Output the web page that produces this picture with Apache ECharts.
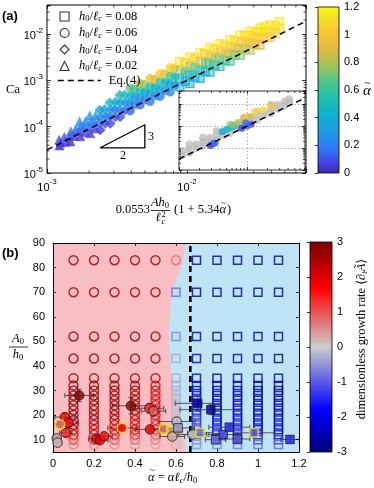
<!DOCTYPE html>
<html>
<head>
<meta charset="utf-8">
<script src="https://cdn.jsdelivr.net/npm/echarts@6/dist/echarts.min.js"></script>
<style>
  html, body { margin: 0; padding: 0; background: #fff; }
  #chart { width: 374px; height: 488px; }
</style>
</head>
<body>
<div id="chart"></div>
<script>
const SANS = "'Liberation Sans', Arial, sans-serif"
const SERIF = "'Liberation Serif', 'DejaVu Serif', serif"

// ---- panel (a): simulations [X, Ca, alpha~], one list per h0/lc ----
const aTriangles = [
  [1.23e-3,3.9e-5,.02],[1.25e-3,4.5e-5,.05],[1.22e-3,5.2e-5,.1],
  [1.36e-3,4.7e-5,.05],[1.33e-3,6.0e-5,.1],
  [1.47e-3,4.8e-5,.03],[1.45e-3,6.2e-5,.08],[1.48e-3,7.9e-5,.15],
  [1.57e-3,6.3e-5,.06],[1.6e-3,8.7e-5,.15],
  [1.73e-3,6.2e-5,.04],[1.7e-3,8.0e-5,.1],[1.74e-3,1.02e-4,.18],[1.71e-3,1.29e-4,.25],
  [1.88e-3,7.6e-5,.07],[1.85e-3,1.0e-4,.15],[1.89e-3,1.32e-4,.22],
  [2.04e-3,7.2e-5,.05],[2.01e-3,9.7e-5,.12],[2.05e-3,1.29e-4,.2],[2.02e-3,1.74e-4,.3],
  [2.21e-3,9.1e-5,.08],[2.18e-3,1.26e-4,.18],[2.22e-3,1.74e-4,.28]
]
const aDiamonds = [
  [2.4e-3,8.5e-5,.05],[2.37e-3,1.18e-4,.15],[2.42e-3,1.62e-4,.25],[2.38e-3,2.29e-4,.38],
  [2.6e-3,1.17e-4,.1],[2.63e-3,1.66e-4,.22],[2.58e-3,2.34e-4,.35],
  [2.83e-3,1.17e-4,.08],[2.8e-3,1.65e-4,.18],[2.85e-3,2.33e-4,.3],[2.81e-3,3.3e-4,.45],
  [3.07e-3,1.62e-4,.12],[3.04e-3,2.34e-4,.25],[3.09e-3,3.4e-4,.4],
  [3.33e-3,1.62e-4,.1],[3.3e-3,2.3e-4,.2],[3.35e-3,3.3e-4,.35],[3.31e-3,4.8e-4,.55],
  [3.6e-3,2.24e-4,.15],[3.63e-3,3.3e-4,.3],[3.58e-3,4.8e-4,.5]
]
const aCircles = [
  [3.93e-3,2.2e-4,.12],[3.9e-3,3.2e-4,.25],[3.95e-3,4.6e-4,.42],[3.91e-3,6.8e-4,.7],
  [4.25e-3,3.0e-4,.2],[4.28e-3,4.4e-4,.35],[4.22e-3,6.4e-4,.6],
  [4.62e-3,2.95e-4,.15],[4.58e-3,4.2e-4,.3],[4.65e-3,5.9e-4,.5],[4.6e-3,8.5e-4,.85],
  [5.0e-3,3.8e-4,.2],[5.04e-3,5.6e-4,.4],[4.97e-3,8.1e-4,.75],
  [5.45e-3,3.5e-4,.18],[5.41e-3,5.1e-4,.35],[5.48e-3,7.4e-4,.55],[5.43e-3,1.1e-3,1.0],
  [5.9e-3,4.7e-4,.25],[5.94e-3,7.0e-4,.45],[5.87e-3,1.05e-3,.9],
  [6.42e-3,4.5e-4,.2],[6.38e-3,6.5e-4,.38],[6.46e-3,9.5e-4,.6],[6.4e-3,1.4e-3,1.05],
  [6.98e-3,6.0e-4,.28],[7.02e-3,9.1e-4,.5],[6.94e-3,1.38e-3,.95],
  [7.58e-3,5.6e-4,.25],[7.53e-3,8.4e-4,.4],[7.62e-3,1.26e-3,.65],[7.56e-3,1.9e-3,1.1],
  [8.2e-3,7.7e-4,.3],[8.25e-3,1.19e-3,.55],[8.16e-3,1.84e-3,1.0]
]
const aSquares = [
  [8.9e-3,7.2e-4,.3],[8.85e-3,1.1e-3,.45],[8.95e-3,1.66e-3,.75],[8.88e-3,2.57e-3,1.15],
  [9.7e-3,9.5e-4,.35],[9.75e-3,1.5e-3,.6],[9.65e-3,2.37e-3,1.05],
  [1.05e-2,8.5e-4,.35],[1.045e-2,1.32e-3,.5],[1.055e-2,2.04e-3,.8],[1.05e-2,3.2e-3,1.15],
  [1.14e-2,1.17e-3,.4],[1.145e-2,1.86e-3,.65],[1.135e-2,2.95e-3,1.05],
  [1.24e-2,1.1e-3,.4],[1.235e-2,1.68e-3,.55],[1.25e-2,2.57e-3,.85],[1.24e-2,4.0e-3,1.15],
  [1.35e-2,1.55e-3,.45],[1.36e-2,2.43e-3,.7],[1.34e-2,3.8e-3,1.05],
  [1.46e-2,1.5e-3,.45],[1.45e-2,2.29e-3,.6],[1.47e-2,3.5e-3,.9],[1.46e-2,5.2e-3,1.15],
  [1.58e-2,2.09e-3,.5],[1.59e-2,3.15e-3,.75],[1.57e-2,4.8e-3,1.1],
  [1.72e-2,2.0e-3,.55],[1.71e-2,2.9e-3,.7],[1.73e-2,4.2e-3,.95],[1.72e-2,6.2e-3,1.15],
  [1.87e-2,2.7e-3,.6],[1.88e-2,3.9e-3,.85],[1.86e-2,5.75e-3,1.1],
  [2.03e-2,2.6e-3,.6],[2.02e-2,3.7e-3,.8],[2.04e-2,5.25e-3,1.0],[2.03e-2,7.6e-3,1.15],
  [2.2e-2,3.5e-3,.7],[2.21e-2,5.0e-3,.9],[2.19e-2,7.2e-3,1.1],
  [2.39e-2,3.5e-3,.7],[2.38e-2,4.8e-3,.85],[2.4e-2,6.8e-3,1.0],[2.39e-2,9.5e-3,1.15],
  [2.6e-2,4.8e-3,.8],[2.61e-2,7.1e-3,1.0],[2.59e-2,9.5e-3,1.12],
  [2.82e-2,4.5e-3,.8],[2.81e-2,6.5e-3,.95],[2.83e-2,9.5e-3,1.1],[2.82e-2,1.15e-2,1.15],
  [3.06e-2,6.0e-3,.9],[3.07e-2,8.7e-3,1.05],[3.05e-2,1.12e-2,1.12],
  [3.32e-2,5.8e-3,.9],[3.31e-2,8.1e-3,1.0],[3.33e-2,1.14e-2,1.1],[3.32e-2,1.35e-2,1.15],
  [3.6e-2,8.3e-3,1.0],[3.61e-2,1.15e-2,1.1],[3.59e-2,1.46e-2,1.15],
  [3.92e-2,8.6e-3,1.0],[3.9e-2,1.17e-2,1.08],[3.93e-2,1.58e-2,1.15],
  [4.25e-2,1.05e-2,1.05],[4.26e-2,1.48e-2,1.12],
  [4.6e-2,1.33e-2,1.1],[4.58e-2,1.86e-2,1.15]
]
// inset: other data (gray) and the same runs (colored)
const insetGray = [
  [1.12e-3,4.7e-5],[1.12e-3,7.5e-5],
  [1.41e-3,6.0e-5],[1.41e-3,9.4e-5],[1.41e-3,1.5e-4],
  [1.78e-3,9.4e-5],[1.78e-3,1.5e-4],
  [2.24e-3,1.19e-4],[2.24e-3,1.88e-4],[2.24e-3,3.0e-4],
  [2.82e-3,1.88e-4],[2.82e-3,3.0e-4],
  [3.55e-3,2.37e-4],[3.55e-3,3.76e-4],[3.55e-3,5.96e-4],
  [4.47e-3,3.76e-4],[4.47e-3,5.96e-4],
  [5.62e-3,4.7e-4],[5.62e-3,7.5e-4],[5.62e-3,1.19e-3],
  [7.08e-3,7.5e-4],[7.08e-3,1.19e-3],
  [8.91e-3,9.4e-4],[8.91e-3,1.5e-3],[8.91e-3,2.37e-3],
  [1.12e-2,1.5e-3],[1.12e-2,2.37e-3],
  [1.41e-2,1.88e-3],[1.41e-2,3.0e-3],[1.41e-2,4.7e-3],
  [1.78e-2,3.0e-3],[1.78e-2,4.7e-3],
  [2.24e-2,3.76e-3],[2.24e-2,5.96e-3],[2.24e-2,9.4e-3],
  [2.82e-2,5.96e-3],[2.82e-2,9.4e-3],
  [3.55e-2,8.4e-3],[3.55e-2,1.33e-2],
  [4.17e-2,1.2e-2],[4.17e-2,1.7e-2]
]
const insetColored = [
  [2.9e-3,1.3e-4,.05],[3.16e-3,1.55e-4,.1],[3.4e-3,1.7e-4,.15],
  [4.3e-3,5.5e-4,.35],[5.0e-3,7.0e-4,.45],[5.8e-3,8.5e-4,.5],[6.5e-3,1.0e-3,.55],
  [6.0e-3,1.1e-3,.75],[7.5e-3,1.5e-3,.8],[9.0e-3,1.9e-3,.9],[1.1e-2,2.6e-3,.85],
  [1.3e-2,4.5e-3,1.1],[1.7e-2,5.5e-3,1.15],[2.3e-2,8.5e-3,1.0],[9.3e-3,2.6e-3,1.0],
  [8.3e-3,8.0e-4,.05],[1.0e-2,1.0e-3,.1],[1.15e-2,1.2e-3,.08],[9.5e-3,1.4e-3,.15]
]
const eqX = [1e-3, 0.0708]            // Eq.(4)
const eqCa = [3.16e-5, 0.01884]
const slopeX = [2.4e-3, 5.0e-3, 5.0e-3, 2.4e-3]
const slopeCa = [3.5e-5, 3.5e-5, 1.1e-4, 3.5e-5]
const aMinorX = [2e-3,3e-3,4e-3,5e-3,6e-3,7e-3,8e-3,9e-3,2e-2,3e-2,4e-2,5e-2,6e-2,7e-2]
const aMinorY = [2e-5,3e-5,4e-5,5e-5,6e-5,7e-5,8e-5,9e-5,2e-4,3e-4,4e-4,5e-4,6e-4,7e-4,8e-4,9e-4,
  2e-3,3e-3,4e-3,5e-3,6e-3,7e-3,8e-3,9e-3,2e-2,3e-2,4e-2]

// ---- panel (b) ----
const simAlpha = [0.1,0.2,0.3,0.4,0.5,0.6,0.7,0.8,0.9,1.0,1.1]
const simRows = [83,70,52,43,35,32,30,28,26,24,22,20,18,16,14,12,10,8]
const simRate = [
  [2.7,2.7,2.7,2.7,2.7,2.7,2.7,2.7,2.7,2.7,2.6,2.6,2.5,2.4,2.2,1.8,1.2,0.6],
  [2.7,2.7,2.7,2.7,2.7,2.7,2.7,2.7,2.7,2.7,2.6,2.6,2.5,2.4,2.2,1.9,1.4,0.6],
  [2.7,2.7,2.7,2.7,2.7,2.7,2.6,2.6,2.6,2.5,2.5,2.4,2.2,1.9,1.8,1.6,1.0,0.5],
  [2.7,2.7,2.7,2.6,2.6,2.5,2.5,2.4,2.4,2.4,2.3,2.1,1.9,1.8,1.7,1.4,0.9,0.4],
  [2.6,2.6,2.6,2.5,2.4,2.0,1.9,1.8,1.8,1.7,1.6,1.6,1.5,1.4,1.3,1.0,0.6,0.3],
  [0.8,-0.9,-0.7,-0.35,-0.3,-0.25,-0.25,-0.2,-0.2,-0.2,-0.15,-0.15,-0.1,-0.1,-0.1,-0.05,0.1,0.2],
  [-2.6,-2.6,-2.6,-2.5,-2.4,-2.0,-1.9,-1.8,-1.8,-1.7,-1.6,-1.5,-1.4,-1.3,-1.1,-0.9,-0.7,-0.5],
  [-2.7,-2.7,-2.7,-2.7,-2.7,-2.6,-2.6,-2.5,-2.5,-2.4,-2.3,-2.0,-1.9,-1.8,-1.6,-1.3,-1.0,-0.7],
  [-2.7,-2.7,-2.7,-2.7,-2.7,-2.6,-2.6,-2.6,-2.5,-2.5,-2.4,-2.1,-2.0,-1.9,-1.7,-1.4,-1.1,-0.8],
  [-2.7,-2.7,-2.7,-2.7,-2.7,-2.7,-2.6,-2.6,-2.6,-2.6,-2.5,-2.4,-2.3,-2.2,-2.0,-1.7,-1.3,-0.9],
  [-2.7,-2.7,-2.7,-2.7,-2.7,-2.7,-2.7,-2.6,-2.6,-2.6,-2.6,-2.5,-2.4,-2.3,-2.1,-1.8,-1.4,-1.0]
]
// experiments
const expAlpha = [0.128,0.058,0.075,0.063,0.034,0.018,0.022,0.213,0.229,0.249,0.337,0.38,0.47,0.49,0.473,
  0.54,0.576,0.603,0.582,0.61,0.68,0.706,0.77,0.717,0.793,0.83,0.86,0.90,0.98,1.156]
const expA = [28,19.2,16.8,12.8,16.2,10.6,8.8,10.3,9.8,11.4,14.8,23.8,22.8,21.6,14.2,
  14.4,13.6,17.4,11.3,14.8,12.1,24.8,22.2,12.8,10.0,12.1,15.1,10.3,12.8,10.1]
const expRate = [2.8,1.6,1.6,1.4,0.8,0.4,0.15,1.7,1.9,1.6,1.8,2.8,1.4,0.9,1.7,
  0.7,0.4,0.1,0.25,-0.4,0.05,-2.7,-2.6,-0.7,-0.9,-1.2,-1.5,-1.1,-1.0,-1.5]
const expXerr = [.07,.05,.05,.03,.03,.02,.02,.04,.04,.04,.07,.09,.07,.06,.07,
  .05,.05,.09,.06,.08,.07,.11,.15,.06,.05,.07,.1,.06,.1,.045]
const expYerr = [2.5,1.5,1.5,1.5,1,1,1,1.2,1.2,1.2,1,3.3,2,2,1,
  1,1,1.5,1,1,1,3,2,1,1,1,1,1,1,1]
const expYellow = [0,0,0,0,1,0,0,0,0,0,1,0,0,0,0, 1,1,0,0,0,0,0,0,1,0,0,0,0,1,0]
const expSquare = [0,0,0,0,0,0,0,0,0,0,0,0,0,0,0, 0,1,0,0,1,0,1,1,1,1,1,1,1,1,1]
// phase boundary (top to bottom) and critical alpha~
const boundAlpha = [0.645,0.641,0.636,0.628,0.616,0.602,0.59,0.58,0.575,0.571,0.568,0.567,0.568,0.571,0.576,0.584,0.595,0.607,0.619,0.63,0.636,0.641,0.644,0.647]
const boundA = [90,87,84,81,78,75,72,69,66,62,57,52,47,42,37,33,29,25,21,17,14,11,8,5]
const critAlpha = 0.67

const A_X = [1e-3, 0.0708], A_Y = [1e-5, 0.0423], I_Y = [1e-5, 0.039]
const B_X = [0, 1.2], B_Y = [5, 90]

const PARULA = [[0,'#3e26a8'],[0.06,'#4743e8'],[0.15,'#2e7af7'],[0.25,'#1e9be6'],[0.35,'#0db0d0'],
  [0.45,'#1fbfb0'],[0.55,'#4ec68a'],[0.65,'#a5c35a'],[0.75,'#e4b940'],[0.85,'#fbc534'],[0.93,'#f6dc27'],[1,'#f9fb14']]
const REDBLUE = [[0,'#00007a'],[0.2,'#0000ff'],[0.5,'#cccccc'],[0.78,'#ff0000'],[1,'#7a0000']]

function hex(h) { return [1, 3, 5].map(i => parseInt(h.slice(i, i + 2), 16)) }
function cmap(stops, t, a) {
  t = Math.max(0, Math.min(1, t))
  let i = 1
  while (i < stops.length - 1 && stops[i][0] < t) i++
  const f = (t - stops[i - 1][0]) / (stops[i][0] - stops[i - 1][0])
  const p = hex(stops[i - 1][1]), q = hex(stops[i][1])
  const c = p.map((v, k) => Math.round(v + (q[k] - v) * f))
  return a == null ? `rgb(${c})` : `rgba(${c},${a})`
}
const parula = (v, a) => cmap(PARULA, v / 1.2, a)
const redblue = (v, a) => cmap(REDBLUE, (v + 3) / 6, a)

const POW_RICH = {
  a: { fontFamily: SANS, fontSize: 11, lineHeight: 15, verticalAlign: 'bottom', color: '#000' },
  b: { fontFamily: SANS, fontSize: 8, lineHeight: 8, verticalAlign: 'top', color: '#000' }
}
function pow10(v) {
  const e = Math.log10(v), r = Math.round(e)
  return Math.abs(e - r) < 1e-6 ? '{a|10}{b|' + r + '}' : ''
}
const MR = {   // math rich text
  i: { fontFamily: SERIF, fontStyle: 'italic', fontSize: 12.5, lineHeight: 14, color: '#000', fill: '#000' },
  n: { fontFamily: SERIF, fontSize: 12.5, lineHeight: 14, color: '#000', fill: '#000' },
  s: { fontFamily: SERIF, fontSize: 8.5, lineHeight: 8, verticalAlign: 'bottom', color: '#000', fill: '#000' },
  si: { fontFamily: SERIF, fontStyle: 'italic', fontSize: 8.5, lineHeight: 8, verticalAlign: 'bottom', color: '#000', fill: '#000' }
}
const LEG_TEXT = {
  h008: '{i|h}{s|0}{n|/}{i|ℓ}{si|c}{n| = 0.08}',
  h006: '{i|h}{s|0}{n|/}{i|ℓ}{si|c}{n| = 0.06}',
  h004: '{i|h}{s|0}{n|/}{i|ℓ}{si|c}{n| = 0.04}',
  h002: '{i|h}{s|0}{n|/}{i|ℓ}{si|c}{n| = 0.02}'
}

const tick = len => ({ inside: true, length: len, lineStyle: { color: '#000', width: 0.8 } })
const noLabel = { show: false }
const frameLine = { show: true, onZero: false, lineStyle: { color: '#000', width: 1 } }
const dotted = { show: true, lineStyle: { color: '#8c8c8c', width: 0.7, type: [1.5, 2] } }

function minorTicks(xi, yi, xs, ys, xr, yr, len, z) {
  const data = xs.map(v => [v, yr[0], 0]).concat(ys.map(v => [xr[0], v, 1]))
  const st = { stroke: '#000', lineWidth: 0.7 }
  return {
    type: 'custom', xAxisIndex: xi, yAxisIndex: yi, z, silent: true, data,
    renderItem(params, api) {
      if (api.value(2) === 0) {
        const b = api.coord([api.value(0), yr[0]]), t = api.coord([api.value(0), yr[1]])
        return { type: 'group', children: [
          { type: 'line', shape: { x1: b[0], y1: b[1], x2: b[0], y2: b[1] - len }, style: st },
          { type: 'line', shape: { x1: t[0], y1: t[1], x2: t[0], y2: t[1] + len }, style: st }] }
      }
      const l = api.coord([xr[0], api.value(1)]), r = api.coord([xr[1], api.value(1)])
      return { type: 'group', children: [
        { type: 'line', shape: { x1: l[0], y1: l[1], x2: l[0] + len, y2: l[1] }, style: st },
        { type: 'line', shape: { x1: r[0], y1: r[1], x2: r[0] - len, y2: r[1] }, style: st }] }
    }
  }
}
function colorbar(xi, yi, range, stops) {
  return {
    type: 'custom', xAxisIndex: xi, yAxisIndex: yi, silent: true, data: [[0, range[0]]],
    renderItem(params, api) {
      const p0 = api.coord([0, range[0]]), p1 = api.coord([1, range[1]])
      return { type: 'rect', shape: { x: p0[0], y: p1[1], width: p1[0] - p0[0], height: p0[1] - p1[1] },
        style: { fill: new echarts.graphic.LinearGradient(0, 1, 0, 0, stops.map(s => ({ offset: s[0], color: s[1] }))) } }
    }
  }
}
function aSeries(name, arr, symbol, size, hollow) {
  return {
    name, type: 'scatter', xAxisIndex: 0, yAxisIndex: 0, symbol, symbolSize: size, z: 2,
    data: arr.map(p => ({ value: p, itemStyle: hollow
      ? { color: parula(p[2], 0.55), borderColor: parula(p[2]), borderWidth: 1.3 }
      : { color: parula(p[2]), borderColor: parula(p[2]), borderWidth: 0.5 } }))
  }
}

const simData = []
simAlpha.forEach((a, i) => simRows.forEach((r, j) => {
  const v = simRate[i][j]
  simData.push({ value: [a, r], symbol: v >= 0 ? 'circle' : 'rect', symbolSize: v >= 0 ? 9 : 8,
    itemStyle: { color: 'rgba(0,0,0,0)', borderColor: redblue(v), borderWidth: 1.5 } })
}))
const expData = expAlpha.map((a, i) => ({
  value: [a, expA[i]], symbol: expSquare[i] ? 'rect' : 'circle', symbolSize: expSquare[i] ? 8.5 : 9.5,
  itemStyle: { color: redblue(expRate[i]), borderColor: expYellow[i] ? '#f2e300' : '#1a1a1a',
    borderWidth: expYellow[i] ? 1.6 : 1 }
}))

const tc = { align: 'center', textAlign: 'center', verticalAlign: 'middle', textVerticalAlign: 'middle' }
const tl = { verticalAlign: 'middle', textVerticalAlign: 'middle' }

const chart = echarts.init(document.getElementById('chart'), null, { renderer: 'canvas' })
chart.setOption({
  animation: false,
  backgroundColor: '#fff',
  grid: [
    { left: 47, top: 5, width: 259, height: 168, show: true, borderColor: '#000', borderWidth: 1, outerBoundsMode: 'none' },
    { left: 179, top: 91, width: 126, height: 79, show: true, backgroundColor: '#fff', borderColor: '#000', borderWidth: 0.8, z: 10, outerBoundsMode: 'none' },
    { left: 318, top: 7, width: 21, height: 166, show: true, borderColor: '#000', borderWidth: 0.8, z: 3, outerBoundsMode: 'none' },
    { left: 53, top: 243, width: 246, height: 209, show: true, backgroundColor: '#bfe4f5', borderWidth: 0, outerBoundsMode: 'none' },
    { left: 310, top: 242, width: 22, height: 210, show: true, borderColor: '#000', borderWidth: 0.8, z: 3, outerBoundsMode: 'none' }
  ],
  xAxis: [
    { type: 'log', gridIndex: 0, position: 'bottom', min: A_X[0], max: A_X[1], axisLine: { show: false },
      axisTick: tick(4), splitLine: { show: false },
      axisLabel: { formatter: pow10, rich: POW_RICH, margin: 5, color: '#000' } },
    { type: 'log', gridIndex: 0, position: 'top', min: A_X[0], max: A_X[1], axisLine: { show: false },
      axisTick: tick(4), splitLine: { show: false }, axisLabel: noLabel },
    { type: 'log', gridIndex: 1, position: 'bottom', min: A_X[0], max: A_X[1], axisLine: { show: false },
      axisTick: tick(3), splitLine: dotted, axisLabel: noLabel, z: 11 },
    { type: 'log', gridIndex: 1, position: 'top', min: A_X[0], max: A_X[1], axisLine: { show: false },
      axisTick: tick(3), splitLine: { show: false }, axisLabel: noLabel, z: 11 },
    { type: 'value', gridIndex: 2, min: 0, max: 1, show: false },
    { type: 'value', gridIndex: 3, position: 'bottom', min: B_X[0], max: B_X[1], interval: 0.2,
      axisLine: frameLine, axisTick: tick(3), splitLine: { show: false }, z: 5,
      axisLabel: { formatter: v => String(Math.round(v * 10) / 10), fontFamily: SANS, fontSize: 11, color: '#000', margin: 6 } },
    { type: 'value', gridIndex: 3, position: 'top', min: B_X[0], max: B_X[1], interval: 0.2,
      axisLine: frameLine, axisTick: tick(3), splitLine: { show: false }, axisLabel: noLabel, z: 5 },
    { type: 'value', gridIndex: 4, min: 0, max: 1, show: false }
  ],
  yAxis: [
    { type: 'log', gridIndex: 0, position: 'left', min: A_Y[0], max: A_Y[1], axisLine: { show: false },
      axisTick: tick(4), splitLine: { show: false },
      axisLabel: { formatter: pow10, rich: POW_RICH, margin: 4, color: '#000' } },
    { type: 'log', gridIndex: 0, position: 'right', min: A_Y[0], max: A_Y[1], axisLine: { show: false },
      axisTick: tick(4), splitLine: { show: false }, axisLabel: noLabel },
    { type: 'log', gridIndex: 1, position: 'left', min: I_Y[0], max: I_Y[1], axisLine: { show: false },
      axisTick: tick(3), splitLine: dotted, axisLabel: noLabel, z: 11 },
    { type: 'log', gridIndex: 1, position: 'right', min: I_Y[0], max: I_Y[1], axisLine: { show: false },
      axisTick: tick(3), splitLine: { show: false }, axisLabel: noLabel, z: 11 },
    { type: 'value', gridIndex: 2, position: 'right', min: 0, max: 1.2, interval: 0.2, axisLine: { show: false },
      axisTick: tick(3), splitLine: { show: false }, z: 4,
      axisLabel: { formatter: v => String(Math.round(v * 10) / 10), fontFamily: SANS, fontSize: 11, color: '#000', margin: 5 } },
    { type: 'value', gridIndex: 3, position: 'left', min: B_Y[0], max: B_Y[1], splitNumber: 9,
      axisLine: frameLine, axisTick: tick(3), splitLine: { show: false }, z: 5,
      axisLabel: { formatter: v => (v % 10 === 0 ? String(v) : ''), fontFamily: SANS, fontSize: 11, color: '#000', margin: 8 } },
    { type: 'value', gridIndex: 3, position: 'right', min: B_Y[0], max: B_Y[1], splitNumber: 9,
      axisLine: frameLine, axisTick: tick(3), splitLine: { show: false }, axisLabel: noLabel, z: 5 },
    { type: 'value', gridIndex: 4, position: 'right', min: -3, max: 3, interval: 1, axisLine: { show: false },
      axisTick: tick(3), splitLine: { show: false }, z: 4,
      axisLabel: { fontFamily: SANS, fontSize: 11, color: '#000', margin: 5 } }
  ],
  legend: [
    { left: 59.5, top: 10, orient: 'vertical', itemWidth: 9, itemHeight: 9, itemGap: 3, padding: 0,
      selectedMode: false, formatter: n => LEG_TEXT[n], textStyle: { rich: MR, color: '#000', padding: [0, 0, 0, 5] },
      data: [['h008', 'rect'], ['h006', 'circle'], ['h004', 'diamond'], ['h002', 'triangle']].map(([name, icon]) => ({
        name, icon, itemStyle: { color: 'rgba(0,0,0,0)', borderColor: '#000', borderWidth: 1.1 } })) },
    { left: 57, top: 74, itemWidth: 43, itemHeight: 12, padding: 0, selectedMode: false,
      formatter: () => 'Eq.(4)', textStyle: { fontFamily: SERIF, fontSize: 12.5, color: '#000', padding: [0, 0, 0, 3] },
      data: [{ name: 'eq', itemStyle: { color: 'rgba(0,0,0,0)', borderWidth: 0, opacity: 0 },
        lineStyle: { color: '#000', width: 1.5, type: [6, 4] } }] }
  ],
  series: [
    aSeries('h002', aTriangles, 'triangle', 9, false),
    aSeries('h004', aDiamonds, 'diamond', 10, false),
    aSeries('h006', aCircles, 'circle', 8.5, false),
    aSeries('h008', aSquares, 'rect', 8, true),
    { name: 'eq', type: 'line', xAxisIndex: 0, yAxisIndex: 0, z: 3, symbol: 'none', silent: true,
      data: eqX.map((x, i) => [x, eqCa[i]]), lineStyle: { color: '#000', width: 1.5, type: [6, 4] } },
    { type: 'line', xAxisIndex: 0, yAxisIndex: 0, z: 3, symbol: 'none', silent: true,
      data: slopeX.map((x, i) => [x, slopeCa[i]]), lineStyle: { color: '#000', width: 1.3 } },
    minorTicks(0, 0, aMinorX, aMinorY, A_X, A_Y, 2.5, 3),
    // inset
    { type: 'scatter', xAxisIndex: 2, yAxisIndex: 2, z: 12, symbol: 'circle', symbolSize: 7.5, silent: true,
      data: insetGray, itemStyle: { color: '#bdbdbd' } },
    { type: 'scatter', xAxisIndex: 2, yAxisIndex: 2, z: 12, symbol: 'circle', symbolSize: 7, silent: true,
      data: insetColored.map(p => ({ value: p, itemStyle: { color: parula(p[2]) } })) },
    { type: 'line', xAxisIndex: 2, yAxisIndex: 2, z: 13, symbol: 'none', silent: true,
      data: eqX.map((x, i) => [x, eqCa[i]]), lineStyle: { color: '#000', width: 1.5, type: [6, 4] } },
    minorTicks(2, 2, aMinorX, aMinorY.filter(v => v < I_Y[1]), A_X, I_Y, 2, 13),
    colorbar(4, 4, [0, 1.2], PARULA),
    // panel (b)
    { type: 'custom', xAxisIndex: 5, yAxisIndex: 5, z: 1, silent: true, data: [[0, B_Y[0]]],
      renderItem(params, api) {
        const pts = [api.coord([0, B_Y[0]]), api.coord([0, B_Y[1]])]
          .concat(boundAlpha.map((a, i) => api.coord([a, boundA[i]])))
        return { type: 'polygon', shape: { points: pts }, style: { fill: '#f8bec4' } }
      } },
    { type: 'scatter', xAxisIndex: 5, yAxisIndex: 5, z: 3, silent: true, data: simData },
    { type: 'line', xAxisIndex: 5, yAxisIndex: 5, z: 4, symbol: 'none', silent: true,
      data: [[critAlpha, B_Y[0]], [critAlpha, B_Y[1]]], lineStyle: { color: '#000', width: 2.6, type: [6, 4] } },
    { type: 'custom', xAxisIndex: 5, yAxisIndex: 5, z: 5, silent: true,
      data: expAlpha.map((a, i) => [a, expA[i], expXerr[i], expYerr[i]]),
      renderItem(params, api) {
        const x = api.value(0), y = api.value(1), ex = api.value(2), ey = api.value(3)
        const l = api.coord([x - ex, y]), r = api.coord([x + ex, y])
        const b = api.coord([x, y - ey]), t = api.coord([x, y + ey])
        const c = 2.5, st = { stroke: '#333', lineWidth: 0.8 }
        const ln = (x1, y1, x2, y2) => ({ type: 'line', shape: { x1, y1, x2, y2 }, style: st })
        return { type: 'group', children: [
          ln(l[0], l[1], r[0], r[1]), ln(l[0], l[1] - c, l[0], l[1] + c), ln(r[0], r[1] - c, r[0], r[1] + c),
          ln(b[0], b[1], t[0], t[1]), ln(b[0] - c, b[1], b[0] + c, b[1]), ln(t[0] - c, t[1], t[0] + c, t[1])] }
      } },
    { type: 'scatter', xAxisIndex: 5, yAxisIndex: 5, z: 6, silent: true, data: expData },
    colorbar(7, 7, [-3, 3], REDBLUE)
  ],
  graphic: [
    { type: 'text', x: 2, y: 16, style: Object.assign({ text: '(a)', font: 'bold 13px ' + SANS, fill: '#000' }, tl) },
    { type: 'text', x: 2, y: 253, style: Object.assign({ text: '(b)', font: 'bold 13px ' + SANS, fill: '#000' }, tl) },
    { type: 'text', x: 13, y: 90, style: Object.assign({ text: 'Ca', font: '12.5px ' + SERIF, fill: '#000' }, tc) },
    // colorbar (a) label: alpha with tilde
    { type: 'text', x: 367, y: 91, style: Object.assign({ text: 'α', font: 'italic 15px ' + SERIF, fill: '#000' }, tc) },
    { type: 'text', x: 367.5, y: 83, style: Object.assign({ text: '~', font: '11px ' + SERIF, fill: '#000' }, tc) },
    // x label (a)
    { type: 'text', x: 150, y: 210, style: Object.assign({ text: '0.0553', font: '12.5px ' + SERIF, fill: '#000', align: 'right', textAlign: 'right' }, tl) },
    { type: 'text', x: 160, y: 203, style: Object.assign({ text: '{i|Ah}{s|0}', rich: MR }, tc) },
    { type: 'line', shape: { x1: 151, y1: 210.5, x2: 170, y2: 210.5 }, style: { stroke: '#000', lineWidth: 0.8 } },
    { type: 'text', x: 158, y: 218, style: Object.assign({ text: 'ℓ', font: 'italic 12.5px ' + SERIF, fill: '#000' }, tc) },
    { type: 'text', x: 161.5, y: 214.5, style: Object.assign({ text: '2', font: '8.5px ' + SERIF, fill: '#000' }, tl) },
    { type: 'text', x: 161.5, y: 221.5, style: Object.assign({ text: 'c', font: 'italic 8.5px ' + SERIF, fill: '#000' }, tl) },
    { type: 'text', x: 174, y: 210, style: Object.assign({ text: '(1 + 5.34', font: '12.5px ' + SERIF, fill: '#000' }, tl) },
    { type: 'text', x: 219.5, y: 210, style: Object.assign({ text: 'α', font: 'italic 12.5px ' + SERIF, fill: '#000' }, tl) },
    { type: 'text', x: 223.5, y: 203.5, style: Object.assign({ text: '~', font: '9px ' + SERIF, fill: '#000' }, tc) },
    { type: 'text', x: 227, y: 210, style: Object.assign({ text: ')', font: '12.5px ' + SERIF, fill: '#000' }, tl) },
    // slope triangle
    { type: 'text', x: 123, y: 156, style: Object.assign({ text: '2', font: '12px ' + SERIF, fill: '#000' }, tc) },
    { type: 'text', x: 148, y: 137, style: Object.assign({ text: '3', font: '12px ' + SERIF, fill: '#000' }, tl) },
    // (b) y label
    { type: 'text', x: 18, y: 339, style: Object.assign({ text: '{i|A}{s|0}', rich: MR }, tc) },
    { type: 'line', shape: { x1: 9, y1: 347, x2: 28, y2: 347 }, style: { stroke: '#000', lineWidth: 0.8 } },
    { type: 'text', x: 18, y: 355, style: Object.assign({ text: '{i|h}{s|0}', rich: MR }, tc) },
    // (b) x label
    { type: 'text', x: 148, y: 478, style: Object.assign({ text: '{i|α}{n| = }{i|αℓ}{si|c}{n|/}{i|h}{s|0}', rich: MR }, tl) },
    { type: 'text', x: 152.5, y: 471, style: Object.assign({ text: '~', font: '9px ' + SERIF, fill: '#000' }, tc) },
    // colorbar (b) label
    { type: 'text', x: 362, y: 339, rotation: Math.PI / 2,
      style: Object.assign({ text: '{n|dimensionless growth rate ⟨∂}{si|t}{i|A\u0303}{n|⟩}', rich: MR }, tc) }
  ]
})
</script>
</body>
</html>
